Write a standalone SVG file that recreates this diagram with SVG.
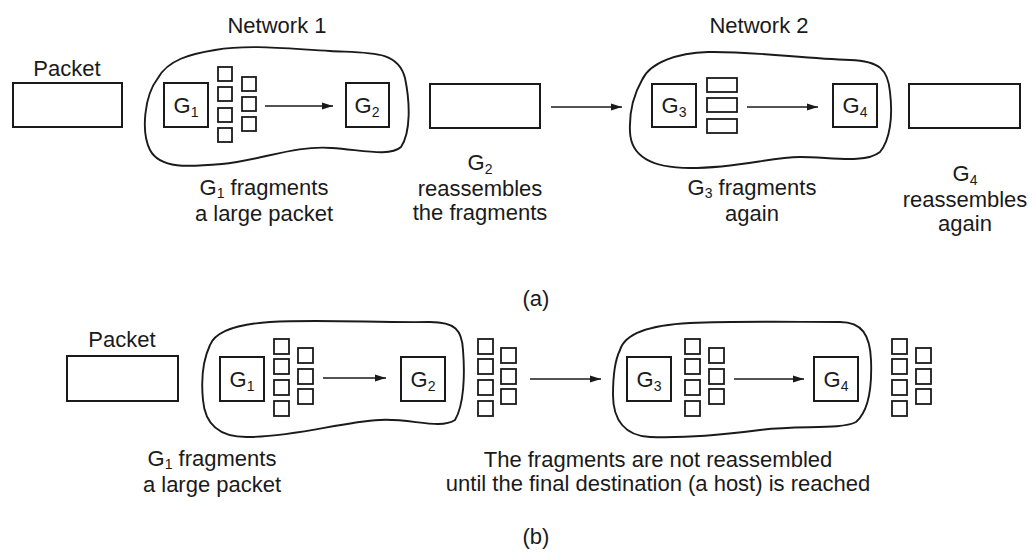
<svg xmlns="http://www.w3.org/2000/svg" width="1036" height="553" viewBox="0 0 1036 553">
<defs>
<style>
text{font-family:"Liberation Sans",Arial,sans-serif;font-size:22px;fill:#1a1a1a;text-anchor:middle}
.box{fill:#fff;stroke:#1a1a1a;stroke-width:2}
.frag{fill:#fff;stroke:#1a1a1a;stroke-width:1.8}
.cloud{fill:#fff;stroke:#1a1a1a;stroke-width:1.9}
.conn{stroke:#1a1a1a;stroke-width:1.4;fill:none}
.g{font-size:22px}
.sub{font-size:14px}
</style>
<marker id="ah" markerUnits="userSpaceOnUse" markerWidth="12" markerHeight="8" refX="11" refY="4" orient="auto">
<path d="M0,0.5 L11,4 L0,7.5 z" fill="#1a1a1a"/>
</marker>
</defs>
<rect width="1036" height="553" fill="#fff"/>

<!-- ===== (a) ===== -->
<g id="a-packet">
<text x="67" y="76">Packet</text>
<rect class="box" x="13" y="83" width="109" height="44"/>
</g>

<g id="a-network1">
<text x="277" y="33">Network 1</text>
<path class="cloud" d="M158,78 C168,60 190,54 215,50 C250,44 290,49 330,51 C370,53 398,50 405,78 C410,102 411,132 401,147 C390,157 362,150 332,148 C295,145 262,160 222,164 C188,167 160,169 150,150 C141,132 144,96 158,78 Z"/>
</g>
<g id="a-g1">
<rect class="box" x="164" y="83" width="44" height="44"/>
<text class="g" x="186" y="113">G<tspan class="sub" dy="4">1</tspan></text>
</g>
<g id="a-frags1">
<rect class="frag" x="218" y="67" width="14" height="14"/>
<rect class="frag" x="218" y="87" width="14" height="14"/>
<rect class="frag" x="218" y="108" width="14" height="14"/>
<rect class="frag" x="218" y="128" width="14" height="14"/>
<rect class="frag" x="242" y="77" width="14" height="14"/>
<rect class="frag" x="242" y="97" width="14" height="14"/>
<rect class="frag" x="242" y="117" width="14" height="14"/>
</g>
<g id="a-g2">
<rect class="box" x="346" y="83" width="43" height="44"/>
<text class="g" x="367" y="113">G<tspan class="sub" dy="4">2</tspan></text>
</g>
<g id="a-label1">
<text x="264" y="195">G<tspan class="sub" dy="3">1</tspan><tspan dy="-3"> fragments</tspan></text>
<text x="264" y="221">a large packet</text>
</g>

<g id="a-packet2">
<rect class="box" x="430" y="84" width="110" height="44"/>
</g>
<g id="a-label2">
<text x="480" y="170">G<tspan class="sub" dy="4">2</tspan></text>
<text x="480" y="196">reassembles</text>
<text x="480" y="220">the fragments</text>
</g>

<g id="a-network2">
<text x="759" y="33">Network 2</text>
<path class="cloud" d="M642,80 C650,62 678,53 708,52 C748,51 800,58 850,60 C880,61 888,70 890,92 C893,117 890,140 880,152 C865,164 830,157 800,157 C770,157 740,168 690,168 C652,168 631,156 630,132 C629,112 634,94 642,80 Z"/>
</g>
<g id="a-g3">
<rect class="box" x="652" y="84" width="44" height="43"/>
<text class="g" x="674" y="113">G<tspan class="sub" dy="4">3</tspan></text>
</g>
<g id="a-frags2">
<rect class="frag" x="707" y="78" width="30" height="14"/>
<rect class="frag" x="707" y="98" width="30" height="14"/>
<rect class="frag" x="707" y="119" width="30" height="14"/>
</g>
<g id="a-g4">
<rect class="box" x="833" y="84" width="44" height="43"/>
<text class="g" x="855" y="113">G<tspan class="sub" dy="4">4</tspan></text>
</g>
<g id="a-label3">
<text x="752" y="195">G<tspan class="sub" dy="3">3</tspan><tspan dy="-3"> fragments</tspan></text>
<text x="752" y="221">again</text>
</g>
<g id="a-packet3">
<rect class="box" x="909" y="84" width="111" height="44"/>
</g>
<g id="a-label4">
<text x="965" y="181">G<tspan class="sub" dy="4">4</tspan></text>
<text x="965" y="207">reassembles</text>
<text x="965" y="231">again</text>
</g>
<text id="a-caption" x="536" y="306">(a)</text>

<!-- ===== (b) ===== -->
<g id="b-packet">
<text x="122" y="347">Packet</text>
<rect class="box" x="67" y="356" width="111" height="45"/>
</g>
<g id="b-network1">
<path class="cloud" d="M210,345 C216,330 240,324 270,322 C320,319 380,323 430,322 C455,322 462,330 463,350 C465,375 464,405 455,420 C440,430 410,418 380,420 C340,422 300,436 250,437 C220,438 205,425 203,400 C201,380 203,360 210,345 Z"/>
</g>
<g id="b-g1">
<rect class="box" x="220" y="357" width="44" height="44"/>
<text class="g" x="242" y="387">G<tspan class="sub" dy="4">1</tspan></text>
</g>
<g id="b-frags1">
<rect class="frag" x="274" y="339" width="15" height="15"/>
<rect class="frag" x="274" y="359" width="15" height="15"/>
<rect class="frag" x="274" y="380" width="15" height="15"/>
<rect class="frag" x="274" y="401" width="15" height="15"/>
<rect class="frag" x="298" y="348" width="15" height="15"/>
<rect class="frag" x="298" y="369" width="15" height="15"/>
<rect class="frag" x="298" y="389" width="15" height="15"/>
</g>
<g id="b-g2">
<rect class="box" x="401" y="357" width="44" height="44"/>
<text class="g" x="423" y="387">G<tspan class="sub" dy="4">2</tspan></text>
</g>
<g id="b-frags2">
<rect class="frag" x="478" y="339" width="15" height="15"/>
<rect class="frag" x="478" y="359" width="15" height="15"/>
<rect class="frag" x="478" y="380" width="15" height="15"/>
<rect class="frag" x="478" y="401" width="15" height="15"/>
<rect class="frag" x="501" y="348" width="15" height="15"/>
<rect class="frag" x="501" y="369" width="15" height="15"/>
<rect class="frag" x="501" y="389" width="15" height="15"/>
</g>
<g id="b-network2">
<path class="cloud" d="M620,350 C625,333 650,325 690,323 C740,321 790,322 840,322 C862,322 870,335 871,360 C872,385 870,410 856,422 C840,430 800,425 760,430 C720,435 690,438 650,437 C625,436 613,420 613,395 C613,375 615,360 620,350 Z"/>
</g>
<g id="b-g3">
<rect class="box" x="627" y="357" width="44" height="44"/>
<text class="g" x="649" y="387">G<tspan class="sub" dy="4">3</tspan></text>
</g>
<g id="b-frags3">
<rect class="frag" x="685" y="339" width="15" height="15"/>
<rect class="frag" x="685" y="359" width="15" height="15"/>
<rect class="frag" x="685" y="380" width="15" height="15"/>
<rect class="frag" x="685" y="401" width="15" height="15"/>
<rect class="frag" x="709" y="348" width="15" height="15"/>
<rect class="frag" x="709" y="369" width="15" height="15"/>
<rect class="frag" x="709" y="389" width="15" height="15"/>
</g>
<g id="b-g4">
<rect class="box" x="814" y="357" width="44" height="44"/>
<text class="g" x="836" y="387">G<tspan class="sub" dy="4">4</tspan></text>
</g>
<g id="b-frags4">
<rect class="frag" x="892" y="339" width="15" height="15"/>
<rect class="frag" x="892" y="359" width="15" height="15"/>
<rect class="frag" x="892" y="380" width="15" height="15"/>
<rect class="frag" x="892" y="401" width="15" height="15"/>
<rect class="frag" x="916" y="348" width="15" height="15"/>
<rect class="frag" x="916" y="369" width="15" height="15"/>
<rect class="frag" x="916" y="389" width="15" height="15"/>
</g>
<g id="b-label1">
<text x="212" y="466">G<tspan class="sub" dy="3">1</tspan><tspan dy="-3"> fragments</tspan></text>
<text x="212" y="492">a large packet</text>
</g>
<g id="b-label2">
<text x="658" y="467">The fragments are not reassembled</text>
<text x="658" y="491">until the final destination (a host) is reached</text>
</g>
<text id="b-caption" x="536" y="544">(b)</text>

<g id="connectors">
<line class="conn" x1="265" y1="106" x2="333" y2="106" marker-end="url(#ah)"/>
<line class="conn" x1="551" y1="107" x2="622" y2="107" marker-end="url(#ah)"/>
<line class="conn" x1="747" y1="107" x2="818" y2="107" marker-end="url(#ah)"/>
<line class="conn" x1="323" y1="378" x2="386" y2="378" marker-end="url(#ah)"/>
<line class="conn" x1="530" y1="379" x2="601" y2="379" marker-end="url(#ah)"/>
<line class="conn" x1="734" y1="379" x2="804" y2="379" marker-end="url(#ah)"/>
</g>
</svg>
